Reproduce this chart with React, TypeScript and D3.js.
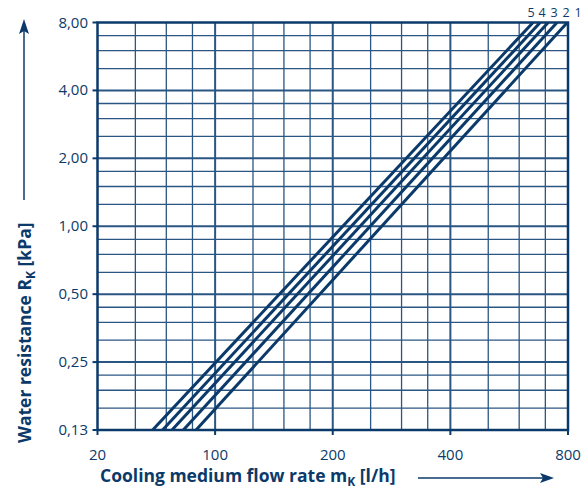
import React from "react";
import * as d3 from "d3";

const xTickValues = [20, 100, 200, 400, 800];
const xTickLabels = ["20", "100", "200", "400", "800"];
const yTickValues = [0.125, 0.25, 0.5, 1, 2, 4, 8];
const yTickLabels = ["0,13", "0,25", "0,50", "1,00", "2,00", "4,00", "8,00"];
const minorFactors = [1.25, 1.5, 1.75];

const seriesNames = ["1", "2", "3", "4", "5"];
// each curve: [flow rate l/h, resistance kPa] at its two ends
const curve1 = [[77.0, 0.125], [797, 8]];
const curve2 = [[64.7, 0.125], [750, 8]];
const curve3 = [[55.4, 0.125], [712, 8]];
const curve4 = [[48.7, 0.125], [679, 8]];
const curve5 = [[42.5, 0.125], [651, 8]];
const curves = [curve1, curve2, curve3, curve4, curve5];

const W = 588;
const H = 495;
const left = 97.5;
const right = 568;
const top = 22.5;
const bottom = 430;

const NAVY = "#0b3a6a";
const GRID = "#2a5683";
const FONT = "'Open Sans', 'Noto Sans', sans-serif";

export default function App() {
  const segW = (right - left) / (xTickValues.length - 1);
  const x = d3
    .scaleLog()
    .domain(xTickValues)
    .range(xTickValues.map((_, i) => left + i * segW));
  const y = d3.scaleLog().base(2).domain([0.125, 8]).range([bottom, top]);

  const xMinor: number[] = [];
  for (let i = 0; i < xTickValues.length - 1; i++) {
    const a = xTickValues[i];
    const b = xTickValues[i + 1];
    minorFactors.forEach((k) => xMinor.push(a * Math.pow(b / a, Math.log2(k))));
  }
  const yMinor: number[] = [];
  for (let i = 0; i < yTickValues.length - 1; i++) {
    minorFactors.forEach((k) => yMinor.push(yTickValues[i] * k));
  }

  const line = d3
    .line<number[]>()
    .x((d) => x(d[0]))
    .y((d) => y(d[1]));

  const labelXs = [578, 566, 554, 542, 531];

  return (
    <svg
      width={W}
      height={H}
      style={{ position: "absolute", left: 0, top: 0, background: "#fff" }}
    >
      {xMinor.map((v, i) => (
        <line key={"xm" + i} x1={x(v)} x2={x(v)} y1={top} y2={bottom} stroke={GRID} strokeWidth={1.3} />
      ))}
      {yMinor.map((v, i) => (
        <line key={"ym" + i} x1={left} x2={right} y1={y(v)} y2={y(v)} stroke={GRID} strokeWidth={1.3} />
      ))}
      {xTickValues.slice(1, -1).map((v, i) => (
        <line key={"xM" + i} x1={x(v)} x2={x(v)} y1={top} y2={bottom} stroke={GRID} strokeWidth={2} />
      ))}
      {yTickValues.slice(1, -1).map((v, i) => (
        <line key={"yM" + i} x1={left} x2={right} y1={y(v)} y2={y(v)} stroke={GRID} strokeWidth={2} />
      ))}
      <rect x={left} y={top} width={right - left} height={bottom - top} fill="none" stroke={NAVY} strokeWidth={2.5} />
      {yTickValues.map((v, i) => (
        <line key={"yt" + i} x1={left - 5} x2={left} y1={y(v)} y2={y(v)} stroke={NAVY} strokeWidth={2} />
      ))}
      {xTickValues.map((v, i) => (
        <line key={"xt" + i} x1={x(v)} x2={x(v)} y1={bottom} y2={bottom + 5} stroke={NAVY} strokeWidth={2} />
      ))}
      <defs>
        <clipPath id="plotclip">
          <rect x={left} y={top} width={right - left} height={bottom - top} />
        </clipPath>
      </defs>
      <g clipPath="url(#plotclip)">
        {curves.map((c, i) => (
          <path key={"c" + i} d={line(c) || ""} fill="none" stroke={NAVY} strokeWidth={3} />
        ))}
      </g>
      {seriesNames.map((n, i) => (
        <text key={"n" + i} x={labelXs[i]} y={17} textAnchor="middle" fontFamily={FONT} fontSize={12.5} fill={NAVY}>
          {n}
        </text>
      ))}
      {yTickValues.map((v, i) => (
        <text key={"yl" + i} x={88} y={y(v) + 5} textAnchor="end" fontFamily={FONT} fontSize={15} fill={NAVY}>
          {yTickLabels[i]}
        </text>
      ))}
      {xTickValues.map((v, i) => (
        <text key={"xl" + i} x={x(v)} y={460} textAnchor="middle" fontFamily={FONT} fontSize={15} fill={NAVY}>
          {xTickLabels[i]}
        </text>
      ))}
      <text x={100} y={482} fontFamily={FONT} fontSize={17.5} fontWeight="bold" fill={NAVY}>
        Cooling medium flow rate m
        <tspan fontSize={12} dy={4}>K</tspan>
        <tspan dy={-4}> [l/h]</tspan>
      </text>
      <line x1={418} x2={544} y1={478} y2={478} stroke={NAVY} strokeWidth={1.5} />
      <path d="M554,478 L540,473 L543,478 L540,483 Z" fill={NAVY} />
      <text
        transform="translate(31,443) rotate(-90)"
        fontFamily={FONT}
        fontSize={17.5}
        fontWeight="bold"
        fill={NAVY}
      >
        Water resistance R
        <tspan fontSize={12} dy={4}>K</tspan>
        <tspan dy={-4}> [kPa]</tspan>
      </text>
      <line x1={24} x2={24} y1={200} y2={30} stroke={NAVY} strokeWidth={1.5} />
      <path d="M24,19 L19,34 L24,31 L29,34 Z" fill={NAVY} />
    </svg>
  );
}
